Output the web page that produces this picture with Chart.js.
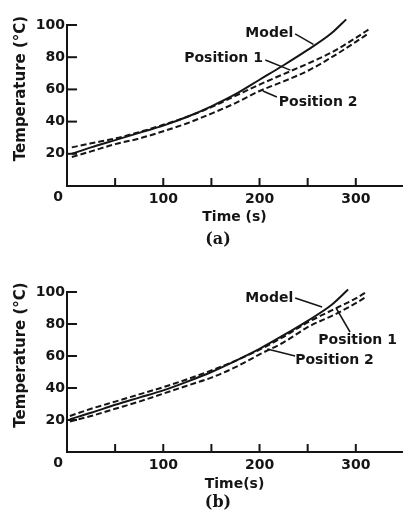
<!DOCTYPE html>
<html>
<head>
<meta charset="utf-8">
<script src="https://cdn.jsdelivr.net/npm/chart.js@4.4.1/dist/chart.umd.min.js"></script>
<style>
  html, body { margin: 0; padding: 0; background: #fff; }
  #wrap { position: relative; width: 403px; height: 512px; }
  .panel { position: absolute; left: 0; width: 403px; }
  #pa { top: 0; height: 250px; }
  #pb { top: 250px; height: 262px; }
</style>
</head>
<body>
<div id="wrap">
  <div class="panel" id="pa"><canvas id="chartA"></canvas></div>
  <div class="panel" id="pb"><canvas id="chartB"></canvas></div>
</div>
<script>
// axis ticks (shared)
var xTickVals = [50, 100, 150, 200, 250, 300];
var yTickVals = [20, 40, 60, 80, 100];

// panel (a)
var modelTimeA = [5, 25, 50, 75, 100, 125, 150, 175, 200, 225, 250, 275, 290];
var modelTempA = [20, 24, 28.5, 33, 37.5, 43, 49.5, 57, 66, 75, 84.5, 95, 103.5];
var pos1TimeA = [5, 25, 50, 75, 100, 125, 150, 175, 200, 225, 250, 275, 300, 314];
var pos1TempA = [24, 26.5, 29.5, 33.5, 38, 43, 49, 56, 63, 69.5, 76, 83, 92, 97.5];
var pos2TimeA = [5, 25, 50, 75, 100, 125, 150, 175, 200, 225, 250, 275, 300, 313];
var pos2TempA = [18, 21.5, 26, 29.5, 34, 39, 45, 51.5, 59, 65, 71.5, 80, 89.5, 94.7];

// panel (b)
var modelTimeB = [3, 25, 50, 75, 100, 125, 150, 175, 200, 225, 250, 275, 292];
var modelTempB = [20.5, 24.5, 29.5, 34, 38.5, 44, 50, 57, 64.5, 73, 82, 92, 101.5];
var pos1TimeB = [3, 25, 50, 75, 100, 125, 150, 175, 200, 225, 250, 280, 300, 311];
var pos1TempB = [22.5, 27, 31.5, 36, 40.5, 45.5, 51, 57, 64, 72, 81, 90, 96, 100];
var pos2TimeB = [3, 25, 50, 75, 100, 125, 150, 175, 200, 225, 250, 280, 300, 311];
var pos2TempB = [19, 22.5, 27, 31.5, 36.5, 41.5, 46.5, 53, 61, 68.5, 78, 86.5, 93, 97];

// labels with leader lines, in data units
var notesA = [
  { text: 'Model', at: [235, 95], align: 'right', lead: [[237, 94.5], [256, 88]] },
  { text: 'Position 1', at: [203.5, 79], align: 'right', lead: [[206, 78.3], [232, 72]] },
  { text: 'Position 2', at: [220, 52], align: 'left', lead: [[218, 55.3], [203.5, 59]] }
];
var notesB = [
  { text: 'Model', at: [235, 96.2], align: 'right', lead: [[237, 96.2], [265, 90.6]] },
  { text: 'Position 1', at: [261, 70], align: 'left', lead: [[294, 75], [279.5, 90]] },
  { text: 'Position 2', at: [237, 57.5], align: 'left', lead: [[237, 60], [208, 64.4]] }
];

const ink = '#151515';
Chart.defaults.font.family = "'DejaVu Sans', sans-serif";
Chart.defaults.font.weight = 'bold';
Chart.defaults.color = ink;

function pairs(xs, ys) {
  return xs.map((x, i) => ({ x: x, y: ys[i] }));
}

function line(ctx, x1, y1, x2, y2) {
  ctx.beginPath();
  ctx.moveTo(x1, y1);
  ctx.lineTo(x2, y2);
  ctx.stroke();
}

const decor = {
  id: 'decor',
  afterDraw(chart, args, o) {
    const ctx = chart.ctx, xs = chart.scales.x, ys = chart.scales.y, a = chart.chartArea;
    ctx.save();
    ctx.strokeStyle = ink;
    ctx.fillStyle = ink;
    ctx.lineWidth = 2;
    // inward tick marks
    xTickVals.forEach(v => {
      const px = xs.getPixelForValue(v);
      line(ctx, px, a.bottom, px, a.bottom - 8);
    });
    yTickVals.forEach(v => {
      const py = ys.getPixelForValue(v);
      line(ctx, a.left, py, a.left + 10, py);
    });
    // shared origin label
    ctx.font = "bold 14px 'DejaVu Sans'";
    ctx.textAlign = 'center';
    ctx.textBaseline = 'middle';
    ctx.fillText('0', a.left - 9, a.bottom + 11);
    // y title
    ctx.save();
    ctx.translate(21, (a.top + a.bottom) / 2 - 17);
    ctx.rotate(-Math.PI / 2);
    ctx.font = "bold 15px 'DejaVu Sans'";
    ctx.fillText('Temperature (°C)', 0, 0);
    ctx.restore();
    // panel label
    ctx.font = "bold 16px 'DejaVu Serif'";
    ctx.fillText(o.panel, 218, a.bottom + o.panelGap);
    // notes
    ctx.font = "bold 14px 'DejaVu Sans'";
    ctx.lineWidth = 1.5;
    o.notes.forEach(n => {
      ctx.textAlign = n.align;
      ctx.fillText(n.text, xs.getPixelForValue(n.at[0]), ys.getPixelForValue(n.at[1]));
      const p = n.lead;
      line(ctx, xs.getPixelForValue(p[0][0]), ys.getPixelForValue(p[0][1]),
        xs.getPixelForValue(p[1][0]), ys.getPixelForValue(p[1][1]));
    });
    ctx.restore();
  }
};

function makePanel(id, series, cfg) {
  const dash = [6, 3];
  new Chart(document.getElementById(id), {
    type: 'line',
    data: {
      datasets: [
        { label: 'Model', data: pairs(series[0], series[1]), borderDash: [] },
        { label: 'Position 1', data: pairs(series[2], series[3]), borderDash: dash },
        { label: 'Position 2', data: pairs(series[4], series[5]), borderDash: dash }
      ].map(d => Object.assign(d, {
        borderColor: ink, borderWidth: 2, pointRadius: 0,
        cubicInterpolationMode: 'monotone', fill: false, clip: false
      }))
    },
    options: {
      responsive: true,
      maintainAspectRatio: false,
      animation: false,
      events: [],
      layout: { padding: { top: cfg.top, right: 1, left: 0, bottom: 0 } },
      plugins: {
        legend: { display: false },
        tooltip: { enabled: false },
        decor: { notes: cfg.notes, panel: cfg.panel, panelGap: cfg.panelGap }
      },
      scales: {
        x: {
          type: 'linear', min: 0, max: 348,
          afterBuildTicks: s => { s.ticks = xTickVals.map(v => ({ value: v })); },
          afterFit: s => { s.height = cfg.xHeight; },
          grid: { display: false, drawTicks: false },
          border: { color: ink, width: 2 },
          ticks: {
            padding: 5, maxRotation: 0, autoSkip: false,
            font: { size: 14, weight: 'bold' },
            callback: v => (v % 100 === 0 ? String(v) : '')
          },
          title: {
            display: true, text: cfg.xTitle,
            font: { size: 14, weight: 'bold' },
            padding: { top: 0, bottom: cfg.titlePad }
          }
        },
        y: {
          type: 'linear', min: 0, max: 100,
          afterBuildTicks: s => { s.ticks = yTickVals.map(v => ({ value: v })); },
          afterFit: s => { s.width = 67; },
          grid: { display: false, drawTicks: false },
          border: { color: ink, width: 2 },
          ticks: { padding: 2, font: { size: 14, weight: 'bold' } }
        }
      }
    },
    plugins: [decor]
  });
}

makePanel('chartA', [modelTimeA, modelTempA, pos1TimeA, pos1TempA, pos2TimeA, pos2TempA],
  { top: 25, xHeight: 64, xTitle: 'Time (s)', titlePad: 24, notes: notesA, panel: '(a)', panelGap: 54 });
makePanel('chartB', [modelTimeB, modelTempB, pos1TimeB, pos1TempB, pos2TimeB, pos2TempB],
  { top: 42, xHeight: 60, xTitle: 'Time(s)', titlePad: 19, notes: notesB, panel: '(b)', panelGap: 51 });
</script>
</body>
</html>
